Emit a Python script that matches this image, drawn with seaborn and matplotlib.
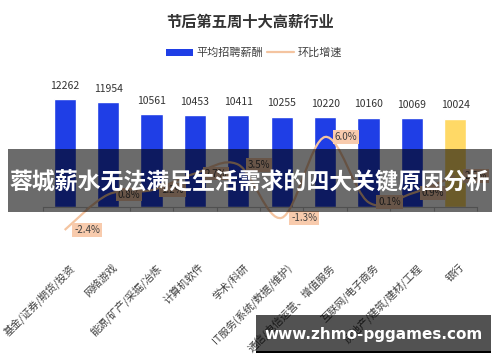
import matplotlib
matplotlib.use("Agg")
import matplotlib.pyplot as plt
import seaborn as sns
import numpy as np
import pandas as pd
from matplotlib.path import Path
from matplotlib.patches import PathPatch, Rectangle, Patch
from matplotlib.lines import Line2D
import matplotlib.transforms as mtransforms

categories = ["基金/证券/期货/投资", "网络游戏", "能源/矿产/采掘/冶炼", "计算机软件", "学术/科研",
              "IT服务(系统/数据/维护)", "通信/电信运营、增值服务", "互联网/电子商务",
              "房地产/建筑/建材/工程", "银行"]
salary = [12262, 11954, 10561, 10453, 10411, 10255, 10220, 10160, 10069, 10024]
growth = [-2.4, 0.8, 1.2, 2.7, 3.5, -1.3, 6.0, 0.1, 0.9, 2.5]
growth_labels = ["-2.4%", "0.8%", "1.2%", "2.7%", "3.5%", "-1.3%", "6.0%", "0.1%", "0.9%", "2.5%"]
title = "节后第五周十大高薪行业"
legend_labels = ["平均招聘薪酬", "环比增速"]
overlay_text = "蓉城薪水无法满足生活需求的四大关键原因分析"
watermark = "www.zhmo-pggames.com"

BLUE = "#1f3ee6"
GOLD = "#ffd966"
PEACH = "#f4c4a0"
colors = [BLUE] * 9 + [GOLD]

sns.set_theme(style="white")
plt.rcParams['font.family'] = ['Noto Sans CJK SC', 'DejaVu Sans']

fig = plt.figure(figsize=(5, 3.62), dpi=100)
W, H = 500, 362
ax = fig.add_axes([43 / W, 1 - 207 / H, 434 / W, 117 / H])

df = pd.DataFrame({"cat": categories, "val": salary})
sns.barplot(data=df, x="cat", y="val", hue="cat", palette=colors, legend=False,
            width=0.51, ax=ax, saturation=1)
ax.set_xlim(-0.5, 9.5)
ax.set_ylim(0, 13300)
ax.set_xlabel("")
ax.set_ylabel("")
ax.set_yticks([])
for s in ["top", "right", "left"]:
    ax.spines[s].set_visible(False)
ax.spines["bottom"].set_color("#bfbfbf")
ax.spines["bottom"].set_linewidth(0.8)

# ticks at category boundaries
ax.set_xticks(np.arange(-0.5, 10, 1))
ax.set_xticklabels([])
ax.tick_params(axis="x", which="major", length=3, color="#bfbfbf", width=0.8, bottom=True)

# category labels, rotated
off = mtransforms.offset_copy(ax.get_xaxis_transform(), fig=fig, x=4, y=-55, units="dots")
for i, c in enumerate(categories):
    ax.text(i, 0, c, transform=off, rotation=45, ha="right", va="top",
            rotation_mode="anchor", fontsize=7.5, color="#404040")

# bar value labels
for i, v in enumerate(salary):
    ax.annotate(str(v), (i, v), xytext=(0, 6), textcoords="offset points",
                ha="center", va="bottom", fontsize=7.5, color="#333333")

# growth line on twin axis
ax2 = ax.twinx()
ax2.set_ylim(-0.325, 10.24)
ax2.set_yticks([])
for s in ax2.spines.values():
    s.set_visible(False)
x = np.arange(len(growth), dtype=float)
y = np.array(growth, dtype=float)
verts = [(x[0], y[0])]
codes = [Path.MOVETO]
n = len(x)
for k in range(n - 1):
    p0 = np.array([x[max(k - 1, 0)], y[max(k - 1, 0)]])
    p1 = np.array([x[k], y[k]])
    p2 = np.array([x[k + 1], y[k + 1]])
    p3 = np.array([x[min(k + 2, n - 1)], y[min(k + 2, n - 1)]])
    c1 = p1 + (p2 - p0) / 6
    c2 = p2 - (p3 - p1) / 6
    verts += [tuple(c1), tuple(c2), tuple(p2)]
    codes += [Path.CURVE4] * 3
patch = PathPatch(Path(verts, codes), facecolor="none", edgecolor=PEACH, lw=1.6,
                  clip_on=False, zorder=3)
ax2.add_patch(patch)
for i, (v, lab) in enumerate(zip(growth, growth_labels)):
    ax2.annotate(lab, (i, v), xytext=(7, 0), textcoords="offset points",
                 ha="left", va="center", fontsize=7, color="#404040",
                 bbox=dict(boxstyle="square,pad=0.2", fc="#f8cbad", ec="none"),
                 annotation_clip=False, zorder=4)

# title
fig.text(0.5, 1 - 22 / H, title, ha="center", va="center", fontsize=11,
         fontweight="bold", color="#333333")

# legend
handles = [Patch(facecolor=BLUE, edgecolor="none"),
           Line2D([0], [0], color=PEACH, lw=1.6)]
fig.legend(handles, legend_labels, loc="center", bbox_to_anchor=(254 / W, 1 - 53 / H),
           ncol=2, frameon=False, fontsize=8, handlelength=2.4, handleheight=0.6,
           handletextpad=0.3, columnspacing=0.4, labelcolor="#404040")

# overlay band
fig.add_artist(Rectangle((8 / W, 1 - 212 / H), 484 / W, 63 / H, transform=fig.transFigure,
                         facecolor="black", alpha=0.58, edgecolor="none", zorder=10))
fig.text(250 / W, 1 - 183 / H, overlay_text, ha="center", va="center", fontsize=16.5,
         fontweight="bold", color="white", zorder=11)

# watermark
fig.add_artist(Rectangle((256 / W, 1 - 352 / H), 235 / W, 37 / H, transform=fig.transFigure,
                         facecolor="black", alpha=0.68, edgecolor="none", zorder=10))
fig.add_artist(Rectangle((256 / W, 1 - 353 / H), 235 / W, 2 / H, transform=fig.transFigure,
                         facecolor="black", edgecolor="none", zorder=10))
fig.text(374 / W, 1 - 335 / H, watermark, ha="center", va="center", fontsize=11,
         fontweight="bold", color="white", family="DejaVu Sans", zorder=11)

fig.savefig("out.png", dpi=100)
